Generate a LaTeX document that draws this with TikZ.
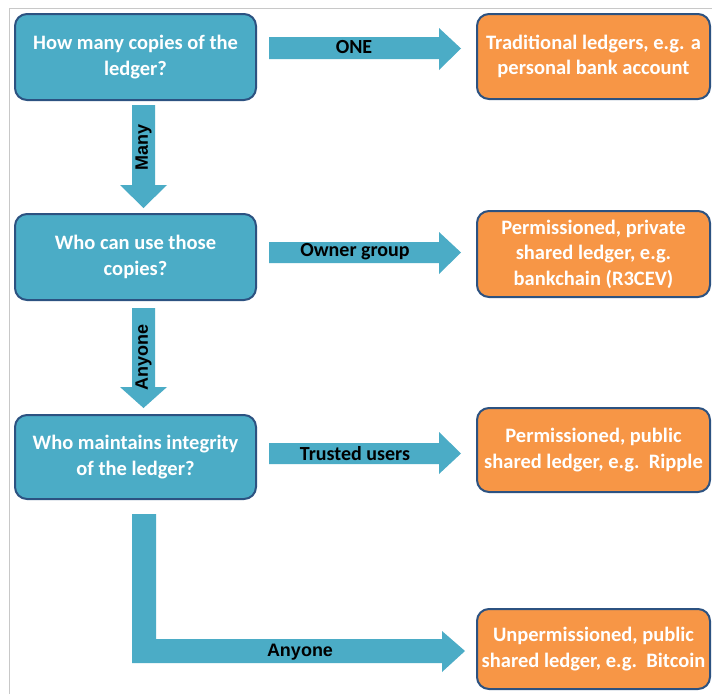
\documentclass[tikz,border=0pt]{standalone}
\usepackage{fontspec}
\setmainfont{Carlito}
\newfontfamily\arialfont{Liberation Sans}
\definecolor{qblue}{HTML}{4BACC6}
\definecolor{qorange}{HTML}{F79646}
\definecolor{qborder}{HTML}{2C5281}
\definecolor{framegray}{HTML}{C8C8C8}
\begin{document}
\begin{tikzpicture}[x=1pt,y=-1pt,
  qbox/.style={draw=qborder, line width=2pt, rounded corners=12pt, fill=qblue,
    text=white, align=center, font=\bfseries\fontsize{20.5}{25.5}\selectfont,
    minimum width=241pt, minimum height=86pt, inner sep=2pt},
  abox/.style={qbox, fill=qorange, minimum width=233pt},
  blockarrow/.style={fill=qblue},
  lbl/.style={font=\bfseries\fontsize{20}{22}\selectfont, text=black, inner sep=1pt},
  albl/.style={font=\arialfont\bfseries\fontsize{18}{20}\selectfont, text=black, inner sep=1pt}]
\useasboundingbox (0,0) rectangle (712,694);
\fill[white] (0,0) rectangle (712,694);
\draw[framegray, line width=1pt] (9,694) -- (9,8) -- (712,8);

% question boxes
\node[qbox] (q1) at (135.5,57) {How many copies of the\\ledger?};
\node[qbox] (q2) at (135.5,257) {Who can use those\\copies?};
\node[qbox, minimum height=84pt] (q3) at (135.5,457) {Who maintains integrity\\of the ledger?};

% answer boxes
\node[abox, minimum height=85pt] (o1) at (593.5,56.5) {Traditional ledgers, e.g. a\\personal bank account};
\node[abox] (o2) at (593.5,254) {Permissioned, private\\shared ledger, e.g.\\bankchain (R3CEV)};
\node[abox, minimum height=84pt] (o3) at (593.5,450) {Permissioned, public\\shared ledger, e.g.\ \ Ripple};
\node[abox, minimum height=80pt] (o4) at (593.5,649) {Unpermissioned, public\\shared ledger, e.g.\ \ Bitcoin};

% right block arrows
\fill[blockarrow] (269,37) -- (439,37) -- (439,28) -- (461,48.5) -- (439,70) -- (439,59) -- (269,59) -- cycle;
\fill[blockarrow] (269,242) -- (439,242) -- (439,232) -- (461,252.5) -- (439,274) -- (439,263) -- (269,263) -- cycle;
\fill[blockarrow] (269,443) -- (439,443) -- (439,432) -- (461,453.5) -- (439,474) -- (439,464) -- (269,464) -- cycle;

% down block arrows
\fill[blockarrow] (132,105) -- (155,105) -- (155,185) -- (167,185) -- (143.5,208) -- (120,185) -- (132,185) -- cycle;
\fill[blockarrow] (132,308) -- (155,308) -- (155,387) -- (167,387) -- (143.5,408) -- (120,387) -- (132,387) -- cycle;

% L-shaped block arrow
\fill[blockarrow] (132,514) -- (156,514) -- (156,639) -- (442,639) -- (442,631) -- (465,651) -- (442,672) -- (442,663) -- (132,663) -- cycle;

% labels
\node[lbl] (l1) at (354,47.5) {ONE};
\node[lbl] (l2) at (355,252) {Owner group};
\node[lbl] (l3) at (355,454) {Trusted users};
\node[albl, rotate=90] (l4) at (143.5,147) {Many};
\node[albl, rotate=90] (l5) at (143.5,357) {Anyone};
\node[albl] (l6) at (300,652) {Anyone};
\end{tikzpicture}
\end{document}
